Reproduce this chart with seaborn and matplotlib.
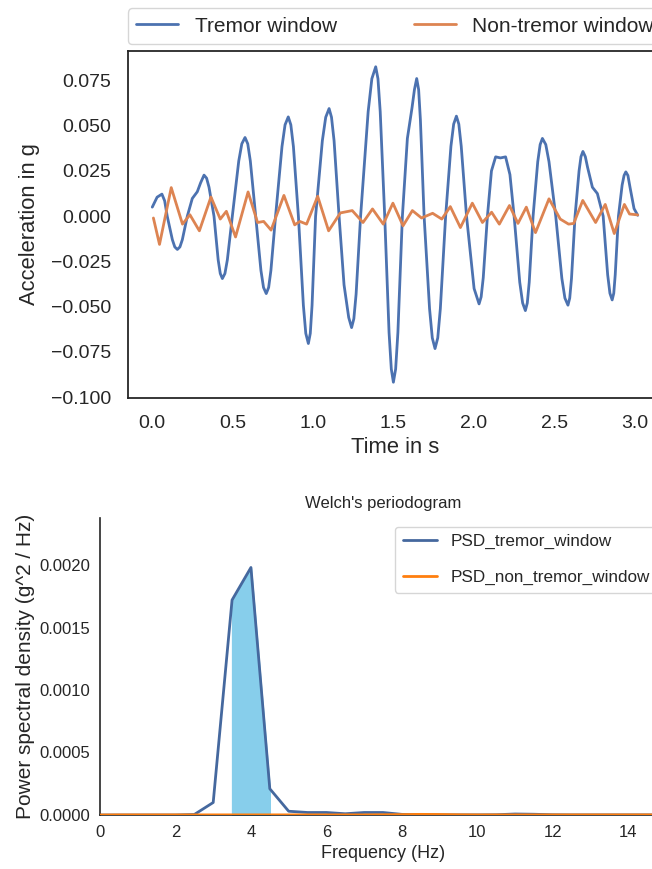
import numpy as np
import pandas as pd
import seaborn as sns
import matplotlib
matplotlib.use('Agg')  # no display
import matplotlib.pyplot as plt

sns.set_theme(style='white')
plt.rcParams['font.family'] = ['Liberation Sans', 'DejaVu Sans']

# Tremor window: time (s) and acceleration (g)
tremor_time = [0.000, 0.030, 0.060, 0.077, 0.093, 0.125, 0.140, 0.156, 0.172, 0.187,
               0.218, 0.249, 0.280, 0.301, 0.322, 0.338, 0.353, 0.384, 0.410, 0.423,
               0.436, 0.452, 0.467, 0.498, 0.538, 0.557, 0.577, 0.594, 0.610, 0.643,
               0.676, 0.692, 0.709, 0.724, 0.738, 0.767, 0.807, 0.826, 0.846, 0.862,
               0.878, 0.909, 0.940, 0.955, 0.971, 0.983, 0.994, 1.016, 1.058, 1.079,
               1.100, 1.115, 1.131, 1.162, 1.193, 1.222, 1.240, 1.254, 1.268, 1.296,
               1.343, 1.366, 1.390, 1.404, 1.418, 1.446, 1.473, 1.487, 1.500, 1.514,
               1.528, 1.556, 1.587, 1.616, 1.631, 1.645, 1.657, 1.668, 1.691, 1.725,
               1.742, 1.759, 1.776, 1.792, 1.825, 1.858, 1.875, 1.892, 1.907, 1.922,
               1.955, 2.002, 2.033, 2.046, 2.059, 2.085, 2.110, 2.136, 2.166, 2.198,
               2.225, 2.251, 2.286, 2.304, 2.321, 2.333, 2.345, 2.369, 2.398, 2.413,
               2.427, 2.448, 2.468, 2.510, 2.548, 2.567, 2.586, 2.597, 2.608, 2.630,
               2.655, 2.667, 2.679, 2.694, 2.708, 2.738, 2.769, 2.805, 2.833, 2.847,
               2.861, 2.871, 2.880, 2.900, 2.923, 2.935, 2.946, 2.959, 2.972, 2.997,
               3.020]
tremor_acc = [0.0050, 0.0105, 0.0122, 0.0085, 0.0000, -0.0130, -0.0170, -0.0184, -0.0170, -0.0130,
              0.0000, 0.0098, 0.0135, 0.0185, 0.0227, 0.0210, 0.0160, 0.0000, -0.0242, -0.0317,
              -0.0345, -0.0317, -0.0242, 0.0000, 0.0305, 0.0400, 0.0435, 0.0400, 0.0305, 0.0000,
              -0.0300, -0.0394, -0.0428, -0.0394, -0.0300, 0.0000, 0.0385, 0.0505, 0.0549, 0.0505,
              0.0385, 0.0000, -0.0493, -0.0648, -0.0704, -0.0648, -0.0493, 0.0000, 0.0417, 0.0547,
              0.0595, 0.0547, 0.0417, 0.0000, -0.0380, -0.0560, -0.0616, -0.0567, -0.0431, 0.0000,
              0.0578, 0.0760, 0.0826, 0.0760, 0.0578, 0.0000, -0.0643, -0.0845, -0.0918, -0.0845,
              -0.0643, 0.0000, 0.0430, 0.0600, 0.0700, 0.0761, 0.0700, 0.0533, 0.0000, -0.0512,
              -0.0673, -0.0732, -0.0673, -0.0512, 0.0000, 0.0387, 0.0509, 0.0553, 0.0509, 0.0387,
              0.0000, -0.0400, -0.0485, -0.0446, -0.0340, 0.0000, 0.0250, 0.0328, 0.0322, 0.0328,
              0.0230, 0.0000, -0.0365, -0.0480, -0.0522, -0.0480, -0.0365, 0.0000, 0.0301, 0.0396,
              0.0430, 0.0396, 0.0301, 0.0000, -0.0344, -0.0453, -0.0492, -0.0453, -0.0344, 0.0000,
              0.0250, 0.0329, 0.0358, 0.0329, 0.0270, 0.0160, 0.0125, 0.0000, -0.0324, -0.0426,
              -0.0463, -0.0426, -0.0324, 0.0000, 0.0172, 0.0225, 0.0245, 0.0225, 0.0160, 0.0042,
              0.0005]

# Non-tremor window
calm_time = [0.007, 0.045, 0.118, 0.188, 0.234, 0.293, 0.365, 0.423, 0.461, 0.518,
             0.596, 0.655, 0.693, 0.739, 0.819, 0.886, 0.918, 0.960, 1.029, 1.097,
             1.170, 1.244, 1.311, 1.370, 1.437, 1.497, 1.560, 1.618, 1.675, 1.744,
             1.801, 1.854, 1.917, 1.991, 2.054, 2.111, 2.159, 2.222, 2.275, 2.327,
             2.384, 2.468, 2.538, 2.590, 2.622, 2.678, 2.758, 2.818, 2.874, 2.937,
             2.969, 3.020]
calm_acc = [-0.0010, -0.0156, 0.0158, -0.0044, 0.0008, -0.0081, 0.0106, -0.0016, 0.0027, -0.0115,
            0.0134, -0.0035, -0.0029, -0.0077, 0.0115, -0.0048, -0.0029, -0.0044, 0.0110, -0.0081,
            0.0018, 0.0031, -0.0035, 0.0040, -0.0044, 0.0072, -0.0053, 0.0031, -0.0010, 0.0016,
            -0.0016, 0.0053, -0.0063, 0.0072, -0.0035, 0.0022, -0.0044, 0.0059, -0.0040, 0.0050,
            -0.0091, 0.0096, -0.0016, -0.0044, -0.0040, 0.0087, -0.0035, 0.0065, -0.0096, 0.0065,
            0.0012, 0.0007]

# Welch's periodogram
freqs = [0.0, 0.5, 1.0, 1.5, 2.0, 2.5, 3.0, 3.5, 4.0, 4.5, 5.0, 5.5, 6.0, 6.5, 7.0, 7.5,
         8.0, 8.5, 9.0, 9.5, 10.0, 10.5, 11.0, 11.5, 12.0, 12.5, 13.0, 13.5, 14.0, 14.5, 15.0]
psd_tremor = [0.0, 0.0, 0.0, 0.0, 0.0, 0.000004, 0.00010, 0.00172, 0.00198, 0.00021,
              0.00003, 0.00002, 0.00002, 0.00001, 0.00002, 0.00002, 0.000005, 0.000002,
              0.000001, 0.000001, 0.000001, 0.000002, 0.000008, 0.000006, 0.000002,
              0.000001, 0.000001, 0.000001, 0.000001, 0.000001, 0.000001]
psd_calm = [0.0, 0.000001, 0.000001, 0.000001, 0.000001, 0.000001, 0.000001, 0.000001,
            0.000001, 0.000001, 0.000001, 0.000001, 0.000001, 0.000001, 0.000001, 0.000002,
            0.000003, 0.000005, 0.000004, 0.000002, 0.000001, 0.000001, 0.000001, 0.000001,
            0.000001, 0.000001, 0.000001, 0.000001, 0.000001, 0.000001, 0.000001]
band_low, band_high = 3.5, 4.5

fig = plt.figure(figsize=(6.52, 8.69), dpi=100)

# --- top: raw acceleration
ax1 = fig.add_axes([128 / 652, 1 - 398 / 869, 534 / 652, 347 / 869])
sns.lineplot(x=tremor_time, y=tremor_acc, ax=ax1, color='#4C72B0', lw=2,
             label='Tremor window')
sns.lineplot(x=calm_time, y=calm_acc, ax=ax1, color='#DD8452', lw=2,
             label='Non-tremor window')
ax1.set_xlabel('Time in s', fontsize=15.8, labelpad=4)
ax1.set_ylabel('Acceleration in g', fontsize=15.8, labelpad=8)
ax1.tick_params(labelsize=14, length=0, pad=12)
for s in ax1.spines.values():
    s.set_color('#262626')
    s.set_linewidth(1.3)
ax1.legend(bbox_to_anchor=(0., 1.02, 1.0, .102), loc='lower left', ncol=2,
           mode='expand', borderaxespad=0., fontsize=15,
           edgecolor='#cccccc', fancybox=True)

# --- bottom: PSD
ax2 = fig.add_axes([100 / 652, 1 - 815 / 869, 566 / 652, 297 / 869])
df_psd = pd.DataFrame({'freq': freqs, 'tremor': psd_tremor, 'calm': psd_calm})
band = (df_psd['freq'] >= band_low) & (df_psd['freq'] <= band_high)
ax2.fill_between(df_psd['freq'], df_psd['tremor'], where=band, color='skyblue', zorder=1)
sns.lineplot(data=df_psd, x='freq', y='tremor', ax=ax2, color='#45689e', lw=2,
             label='PSD_tremor_window', zorder=2)
sns.lineplot(data=df_psd, x='freq', y='calm', ax=ax2, color='#ff7f0e', lw=2,
             label='PSD_non_tremor_window', zorder=3)
ax2.set_xlim(0, 15)
ax2.set_ylim(0, max(psd_tremor) * 1.2)
ax2.set_xticks(range(0, 15, 2))
ax2.set_xlabel('Frequency (Hz)', fontsize=13)
ax2.set_ylabel('Power spectral density (g^2 / Hz)', fontsize=15, labelpad=3)
ax2.set_title("Welch's periodogram", fontsize=12, pad=7)
ax2.tick_params(labelsize=12, length=0, pad=7)
ax2.legend(loc='upper right', fontsize=12.3, edgecolor='#cccccc', fancybox=True,
           labelspacing=1.2, borderpad=0.45, borderaxespad=0.5)
sns.despine(ax=ax2)
for s in ax2.spines.values():
    s.set_color('#262626')
    s.set_linewidth(1.2)

fig.savefig('out.png', dpi=100)
plt.close(fig)
